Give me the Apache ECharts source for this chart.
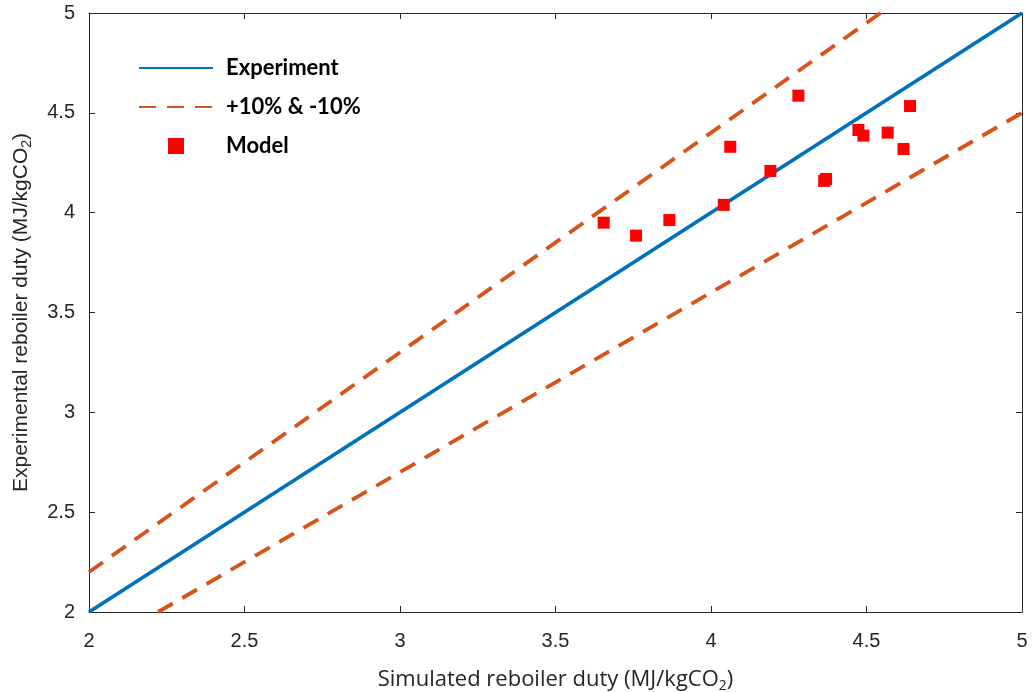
<!DOCTYPE html>
<html>
<head>
<meta charset="utf-8">
<title>Reboiler duty</title>
<script src="https://cdn.jsdelivr.net/npm/echarts@6/dist/echarts.min.js"></script>
<style>
  html, body { margin: 0; padding: 0; background: #fff; }
  #chart { width: 1034px; height: 692px; }
</style>
</head>
<body>
<div id="chart"></div>
<script>
  // simulated (x) vs experimental (y) reboiler duty, MJ/kgCO2
  var modelX = [4.281, 4.640, 4.474, 4.490, 4.568, 4.619, 4.062, 4.191, 4.370, 4.364, 4.041, 3.866, 3.655, 3.759];
  var modelY = [4.586, 4.534, 4.414, 4.386, 4.401, 4.319, 4.330, 4.209, 4.169, 4.159, 4.039, 3.963, 3.950, 3.885];
  var parityLine = [[2, 2], [5, 5]];
  var upperLine = [[2, 2.2], [4.545, 5]];   // +10%
  var lowerLine = [[2.222, 2], [5, 4.5]];   // -10%

  var modelPoints = modelX.map(function (x, i) { return [x, modelY[i]]; });

  var tickFont = {
    color: "#262626",
    fontFamily: "Liberation Sans",
    fontSize: 20
  };
  var axisLine = { show: true, lineStyle: { color: "#262626", width: 1 } };
  var axisTick = { show: true, inside: true, length: 6, lineStyle: { color: "#262626" } };
  var subStyle = { fontSize: 14, color: "#262626", verticalAlign: "bottom", padding: [12, 0, 0, 0] };

  var chart = echarts.init(document.getElementById("chart"));
  chart.setOption({
    animation: false,
    backgroundColor: "#fff",
    grid: { left: 89, right: 12, top: 13, bottom: 80, outerBoundsMode: "none", containLabel: false },
    legend: {
      orient: "vertical",
      left: 133,
      top: 52,
      itemWidth: 74,
      itemHeight: 16,
      itemGap: 17,
      symbolKeepAspect: true,
      textStyle: {
        fontFamily: "Lato",
        fontWeight: "bold",
        fontSize: 22,
        color: "#000",
        padding: [0, 0, 0, 8]
      },
      data: [
        { name: "Experiment", itemStyle: { opacity: 0 } },
        { name: "+10% & -10%", itemStyle: { opacity: 0 } },
        { name: "Model", icon: "path://M0,0H16V16H0Z" }
      ]
    },
    xAxis: [
      {
        type: "value", min: 2, max: 5, interval: 0.5,
        axisLine: axisLine, axisTick: axisTick, splitLine: { show: false },
        axisLabel: Object.assign({ margin: 19 }, tickFont),
        name: "Simulated reboiler duty (MJ/kgCO{s|2})",
        nameLocation: "middle",
        nameGap: 55,
        nameTextStyle: {
          fontFamily: "Open Sans", fontSize: 22, color: "#262626",
          rich: { s: Object.assign({ fontFamily: "Open Sans" }, subStyle) }
        }
      },
      {
        type: "value", min: 2, max: 5, interval: 0.5, position: "top",
        axisLine: axisLine, axisTick: axisTick, axisLabel: { show: false }, splitLine: { show: false }
      }
    ],
    yAxis: [
      {
        type: "value", min: 2, max: 5, interval: 0.5,
        axisLine: axisLine, axisTick: axisTick, splitLine: { show: false },
        axisLabel: Object.assign({ margin: 14 }, tickFont),
        name: "Experimental reboiler duty (MJ/kgCO{s|2})",
        nameLocation: "middle",
        nameGap: 55,
        nameTextStyle: {
          fontFamily: "Liberation Sans", fontSize: 21, color: "#262626",
          rich: { s: Object.assign({ fontFamily: "Liberation Sans" }, subStyle) }
        }
      },
      {
        type: "value", min: 2, max: 5, interval: 0.5, position: "right",
        axisLine: axisLine, axisTick: axisTick, axisLabel: { show: false }, splitLine: { show: false }
      }
    ],
    series: [
      {
        name: "Experiment",
        type: "line",
        data: parityLine,
        symbol: "none",
        lineStyle: { color: "#0072BD", width: 3.8 },
        itemStyle: { color: "#0072BD" },
        z: 2
      },
      {
        name: "+10% & -10%",
        type: "line",
        data: upperLine,
        symbol: "none",
        lineStyle: { color: "#D95319", width: 3.8, type: [17, 11] },
        itemStyle: { color: "#D95319" },
        z: 2
      },
      {
        name: "+10% & -10%",
        type: "line",
        data: lowerLine,
        symbol: "none",
        lineStyle: { color: "#D95319", width: 3.8, type: [17, 11] },
        itemStyle: { color: "#D95319" },
        z: 2
      },
      {
        name: "Model",
        type: "scatter",
        data: modelPoints,
        symbol: "rect",
        symbolSize: 12,
        itemStyle: { color: "#FF0000", opacity: 1 },
        z: 3
      }
    ]
  });
</script>
</body>
</html>
